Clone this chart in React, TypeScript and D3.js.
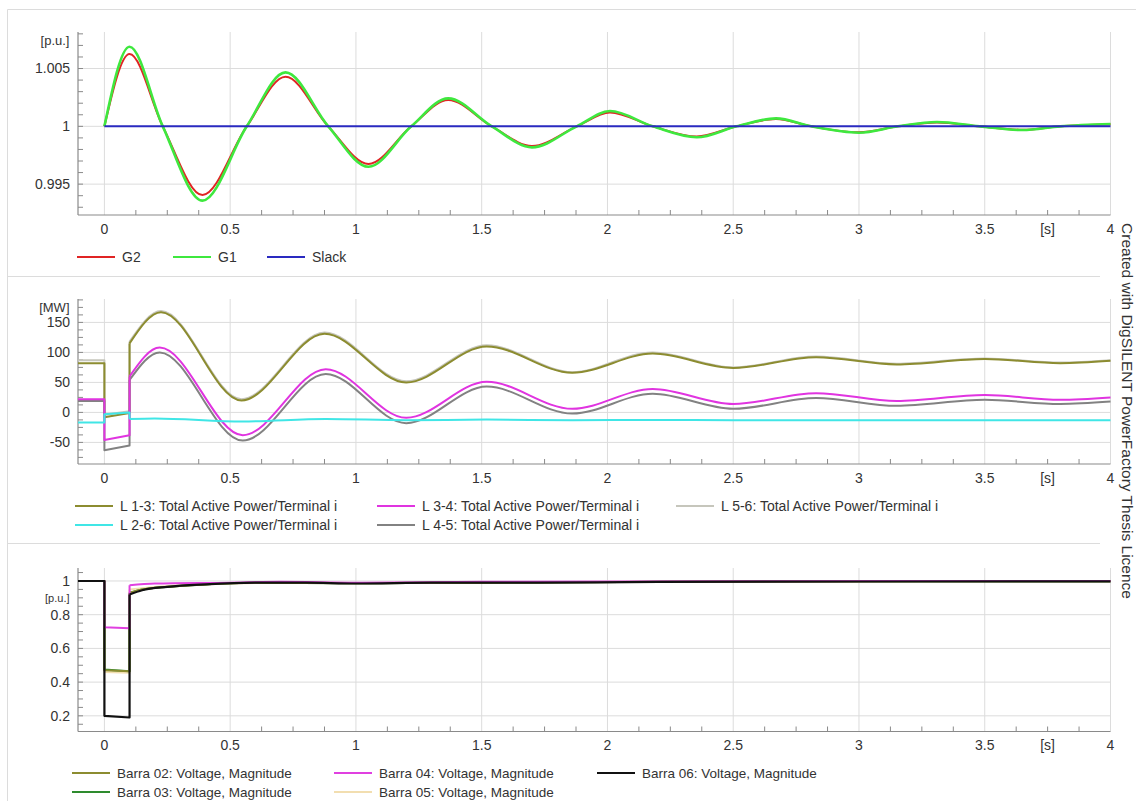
import React from "react";
import * as d3 from "d3";

// ---------- data ----------
const timeDomain: [number, number] = [-0.105, 4];
const timeTicks = [0, 0.5, 1, 1.5, 2, 2.5, 3, 3.5, 4];
const timeLabels = ["0", "0.5", "1", "1.5", "2", "2.5", "3", "3.5", "[s]", "4"];
const timeLabelPos = [0, 0.5, 1, 1.5, 2, 2.5, 3, 3.5, 3.75, 4];

// Speed panel [p.u.]
const speedTicks = [1.005, 1, 0.995];
const speedTickLabels = ["1.005", "1", "0.995"];
const speedTimes = [0, 0.1, 0.232, 0.39, 0.566, 0.72, 0.89, 1.05, 1.22, 1.367, 1.54, 1.7, 1.878, 2.01, 2.18, 2.355, 2.513, 2.67, 2.81, 3.0, 3.155, 3.31, 3.48, 3.65, 3.8, 4.0];
const speedG1 = [1, 1.00689, 1, 0.99357, 1, 1.00467, 1, 0.9965, 1, 1.00242, 1, 0.99818, 1, 1.00132, 1, 0.99905, 1, 1.00069, 1, 0.99945, 1, 1.00037, 1, 0.99968, 1, 1.0002];
const speedG2 = [1, 1.00625, 1, 0.99406, 1, 1.00429, 1, 0.99674, 1, 1.00228, 1, 0.9983, 1, 1.0012, 1, 0.99912, 1, 1.00064, 1, 0.99948, 1, 1.00034, 1, 0.9997, 1, 1.00018];
const speedSlack = [1, 1];

// Active power panel [MW]
const powerTicks = [150, 100, 50, 0, -50];
const powerTickLabels = ["150", "100", "50", "0", "-50"];
// pre-fault level, fault start, fault end
const powerL13Fault = [82, -8, -1];
const powerL56Fault = [87, -4, 2];
const powerL34Fault = [22, -46, -38];
const powerL45Fault = [19, -63, -55];
const powerL26Fault = [-17, -3, 0];
// post-fault recovery [t, MW]
const powerL13Post: [number, number][] = [[0.1, 115], [0.225, 167], [0.545, 20], [0.875, 131], [1.2, 50], [1.52, 110], [1.86, 66], [2.18, 98], [2.5, 74], [2.83, 92], [3.15, 80], [3.5, 89], [3.8, 82], [4.0, 86]];
const powerL56Post: [number, number][] = [[0.1, 118], [0.225, 169], [0.545, 22], [0.875, 133], [1.2, 52], [1.52, 112], [1.86, 67], [2.18, 100], [2.5, 75], [2.83, 93], [3.15, 81], [3.5, 90], [3.8, 83], [4.0, 87]];
const powerL34Post: [number, number][] = [[0.1, 60], [0.22, 108], [0.55, -38], [0.88, 72], [1.2, -9], [1.52, 51], [1.86, 6], [2.18, 39], [2.5, 14], [2.83, 32], [3.15, 19], [3.5, 29], [3.8, 21], [4.0, 25]];
const powerL45Post: [number, number][] = [[0.1, 54], [0.22, 100], [0.55, -47], [0.88, 64], [1.2, -18], [1.52, 43], [1.86, -2], [2.18, 31], [2.5, 6], [2.83, 24], [3.15, 11], [3.5, 21], [3.8, 14], [4.0, 18]];
const powerL26Post: [number, number][] = [[0.1, -11], [0.2, -10], [0.55, -15], [0.88, -11], [1.2, -13], [1.52, -12], [1.86, -13], [2.18, -12.5], [2.5, -13], [3.0, -13], [4.0, -13]];

// Bus voltage panel [p.u.]
const voltTicks = [1, 0.8, 0.6, 0.4, 0.2];
const voltTickLabels = ["1", "0.8", "0.6", "0.4", "0.2"];
const voltB02Fault = [1, 0.47, 0.465];
const voltB03Fault = [1, 0.475, 0.465];
const voltB04Fault = [1, 0.725, 0.72];
const voltB05Fault = [1, 0.46, 0.455];
const voltB06Fault = [1, 0.2, 0.19];
const voltB02Post: [number, number][] = [[0.1, 0.93], [0.15, 0.95], [0.3, 0.97], [0.6, 0.99], [1.0, 0.986], [1.5, 0.99], [2.5, 0.997], [4.0, 0.998]];
const voltB03Post: [number, number][] = [[0.1, 0.93], [0.15, 0.95], [0.3, 0.97], [0.6, 0.99], [1.0, 0.986], [1.5, 0.99], [2.5, 0.997], [4.0, 0.998]];
const voltB04Post: [number, number][] = [[0.1, 0.975], [0.2, 0.985], [0.5, 0.99], [0.7, 0.995], [1.0, 0.99], [1.5, 0.995], [2.5, 0.998], [4.0, 1.0]];
const voltB05Post: [number, number][] = [[0.1, 0.95], [0.2, 0.965], [0.4, 0.98], [0.7, 0.99], [1.0, 0.988], [1.5, 0.992], [2.5, 0.997], [4.0, 0.998]];
const voltB06Post: [number, number][] = [[0.1, 0.92], [0.15, 0.945], [0.25, 0.965], [0.4, 0.98], [0.6, 0.99], [0.8, 0.99], [1.0, 0.985], [1.3, 0.99], [1.7, 0.99], [2.2, 0.995], [3.0, 0.997], [4.0, 0.998]];

// ---------- layout ----------
const W = 1136;
const H = 801;
const FONT = "'Liberation Sans', Arial, sans-serif";
const AXIS = "#8a8a8a";
const GRID = "#dcdcdc";
const TEXT = "#333";

const x = d3.scaleLinear().domain(timeDomain).range([78, 1110.5]);
const xLeft = x(timeDomain[0]);
const xRight = x(4);

type Series = { color: string; width: number; d: string };

function faultPath(y: d3.ScaleLinear<number, number>, fault: number[], post: [number, number][]): string {
  const stepPts: [number, number][] = [
    [timeDomain[0], fault[0]],
    [0, fault[0]],
    [0, fault[1]],
    [0.1, fault[2]],
    [0.1, post[0][1]],
  ];
  const lin = d3.line<[number, number]>().x((p) => x(p[0])).y((p) => y(p[1]));
  const smooth = d3.line<[number, number]>().x((p) => x(p[0])).y((p) => y(p[1])).curve(d3.curveMonotoneX);
  return (lin(stepPts) || "") + (smooth(post) || "");
}

function Panel(props: {
  top: number;
  bottom: number;
  domain: [number, number];
  ticks: number[];
  tickLabels: string[];
  minor: number[];
  unit: string;
  unitValue: number;
  unitSize: number;
  series: (y: d3.ScaleLinear<number, number>) => Series[];
}) {
  const y = d3.scaleLinear().domain(props.domain).range([props.bottom, props.top]);
  const minorX = d3.range(0, 33).map((i) => i * 0.125).filter((t) => t <= 4 && Math.abs(t * 2 - Math.round(t * 2)) > 1e-6);
  const series = props.series(y);
  return (
    <g>
      {/* grid */}
      {timeTicks.map((t) => (
        <line key={"gx" + t} x1={x(t)} x2={x(t)} y1={props.top} y2={props.bottom} stroke={GRID} strokeWidth={1} />
      ))}
      {props.ticks.map((v) => (
        <line key={"gy" + v} x1={xLeft} x2={xRight} y1={y(v)} y2={y(v)} stroke={GRID} strokeWidth={1} />
      ))}
      {/* minor ticks */}
      {minorX.map((t) => (
        <line key={"mx" + t} x1={x(t)} x2={x(t)} y1={props.bottom} y2={props.bottom - 5} stroke={AXIS} strokeWidth={1} />
      ))}
      {props.minor.map((v) => (
        <line key={"my" + v} x1={xLeft} x2={xLeft + 5} y1={y(v)} y2={y(v)} stroke={AXIS} strokeWidth={1} />
      ))}
      {/* axes */}
      <line x1={xLeft} x2={xLeft} y1={props.top} y2={props.bottom} stroke={AXIS} strokeWidth={1.2} />
      <line x1={xLeft} x2={xRight} y1={props.bottom} y2={props.bottom} stroke={AXIS} strokeWidth={1.2} />
      {/* curves */}
      <g fill="none" strokeLinejoin="round">
        {series.map((s, i) => (
          <path key={i} d={s.d} stroke={s.color} strokeWidth={s.width} />
        ))}
      </g>
      {/* labels */}
      {props.ticks.map((v, i) => (
        <text key={"ly" + v} x={70} y={y(v)} dy="0.35em" textAnchor="end" fontSize={14} fill={TEXT}>
          {props.tickLabels[i]}
        </text>
      ))}
      <text x={69.5} y={y(props.unitValue)} dy="0.35em" textAnchor="end" fontSize={props.unitSize} fill={TEXT}>
        {props.unit}
      </text>
      {timeLabelPos.map((t, i) => (
        <text key={"lx" + i} x={x(t)} y={props.bottom + 14} dy="0.35em" textAnchor="middle" fontSize={14} fill={TEXT}>
          {timeLabels[i]}
        </text>
      ))}
    </g>
  );
}

function Legend(props: { size: number; items: { label: string; color: string; x: number; y: number }[] }) {
  return (
    <g>
      {props.items.map((it) => (
        <g key={it.label}>
          <line x1={it.x} x2={it.x + 38} y1={it.y} y2={it.y} stroke={it.color} strokeWidth={2} />
          <text x={it.x + 45} y={it.y} dy="0.35em" fontSize={props.size} fill={TEXT}>
            {it.label}
          </text>
        </g>
      ))}
    </g>
  );
}

const C = {
  g2: "#e02424",
  g1: "#3ee83e",
  slack: "#2a2ac0",
  l13: "#8c8c30",
  l34: "#e034e0",
  l56: "#c6c6bc",
  l26: "#40e6e6",
  l45: "#828282",
  b02: "#8c8c30",
  b03: "#2e8b2e",
  b04: "#e040e0",
  b05: "#f2deb0",
  b06: "#111111",
};

export default function App() {
  const speedLine = (y: d3.ScaleLinear<number, number>, vals: number[], times: number[]) =>
    d3.line<number>().x((_, i) => x(times[i])).y((v) => y(v)).curve(d3.curveMonotoneX)(vals) || "";

  const range = (a: number, b: number, s: number) =>
    d3.range(Math.round((b - a) / s) + 1).map((i) => +(a + i * s).toFixed(4));

  return (
    <svg width={W} height={H} style={{ position: "absolute", left: 0, top: 0, background: "#fff", fontFamily: FONT }}>
      <rect x={0} y={0} width={W} height={H} fill="#fff" />
      {/* frame */}
      <line x1={7.5} x2={W} y1={9.5} y2={9.5} stroke={GRID} />
      <line x1={7.5} x2={7.5} y1={9.5} y2={H} stroke={GRID} />
      <line x1={7.5} x2={1100} y1={276.5} y2={276.5} stroke={GRID} />
      <line x1={7.5} x2={1100} y1={543.5} y2={543.5} stroke={GRID} />

      <Panel
        top={32}
        bottom={215}
        domain={[0.99233, 1.00816]}
        ticks={speedTicks}
        tickLabels={speedTickLabels}
        minor={range(0.993, 1.008, 0.001)}
        unit="[p.u.]"
        unitValue={1.0074}
        unitSize={13}
        series={(y) => [
          { color: C.g2, width: 2, d: speedLine(y, speedG2, speedTimes) },
          { color: C.g1, width: 2.6, d: speedLine(y, speedG1, speedTimes) },
          { color: C.slack, width: 2, d: speedLine(y, speedSlack, [0, 4]) },
        ]}
      />
      <Legend
        size={14}
        items={[
          { label: "G2", color: C.g2, x: 77, y: 257 },
          { label: "G1", color: C.g1, x: 173, y: 257 },
          { label: "Slack", color: C.slack, x: 267, y: 257 },
        ]}
      />

      <Panel
        top={299}
        bottom={464}
        domain={[-86, 189]}
        ticks={powerTicks}
        tickLabels={powerTickLabels}
        minor={range(-75, 187.5, 12.5)}
        unit="[MW]"
        unitValue={175}
        unitSize={13}
        series={(y) => [
          { color: C.l56, width: 2, d: faultPath(y, powerL56Fault, powerL56Post) },
          { color: C.l13, width: 2, d: faultPath(y, powerL13Fault, powerL13Post) },
          { color: C.l45, width: 2, d: faultPath(y, powerL45Fault, powerL45Post) },
          { color: C.l34, width: 2, d: faultPath(y, powerL34Fault, powerL34Post) },
          { color: C.l26, width: 2, d: faultPath(y, powerL26Fault, powerL26Post) },
        ]}
      />
      <Legend
        size={14}
        items={[
          { label: "L 1-3: Total Active Power/Terminal i", color: C.l13, x: 75, y: 506 },
          { label: "L 3-4: Total Active Power/Terminal i", color: C.l34, x: 377, y: 506 },
          { label: "L 5-6: Total Active Power/Terminal i", color: C.l56, x: 676, y: 506 },
          { label: "L 2-6: Total Active Power/Terminal i", color: C.l26, x: 75, y: 525 },
          { label: "L 4-5: Total Active Power/Terminal i", color: C.l45, x: 377, y: 525 },
        ]}
      />

      <Panel
        top={568}
        bottom={731.5}
        domain={[0.107, 1.077]}
        ticks={voltTicks}
        tickLabels={voltTickLabels}
        minor={range(0.15, 1.05, 0.05)}
        unit="[p.u.]"
        unitValue={0.9}
        unitSize={11}
        series={(y) => [
          { color: C.b05, width: 2, d: faultPath(y, voltB05Fault, voltB05Post) },
          { color: C.b03, width: 2, d: faultPath(y, voltB03Fault, voltB03Post) },
          { color: C.b02, width: 2, d: faultPath(y, voltB02Fault, voltB02Post) },
          { color: C.b04, width: 2, d: faultPath(y, voltB04Fault, voltB04Post) },
          { color: C.b06, width: 2.2, d: faultPath(y, voltB06Fault, voltB06Post) },
        ]}
      />
      <Legend
        size={13.5}
        items={[
          { label: "Barra 02: Voltage, Magnitude", color: C.b02, x: 72, y: 773 },
          { label: "Barra 04: Voltage, Magnitude", color: C.b04, x: 334, y: 773 },
          { label: "Barra 06: Voltage, Magnitude", color: C.b06, x: 597, y: 773 },
          { label: "Barra 03: Voltage, Magnitude", color: C.b03, x: 72, y: 792 },
          { label: "Barra 05: Voltage, Magnitude", color: C.b05, x: 334, y: 792 },
        ]}
      />

      <text
        transform={`translate(1127, 411) rotate(90)`}
        textAnchor="middle"
        dy="0.35em"
        fontSize={15.5}
        fill={TEXT}
      >
        Created with DigSILENT PowerFactory Thesis Licence
      </text>
    </svg>
  );
}
